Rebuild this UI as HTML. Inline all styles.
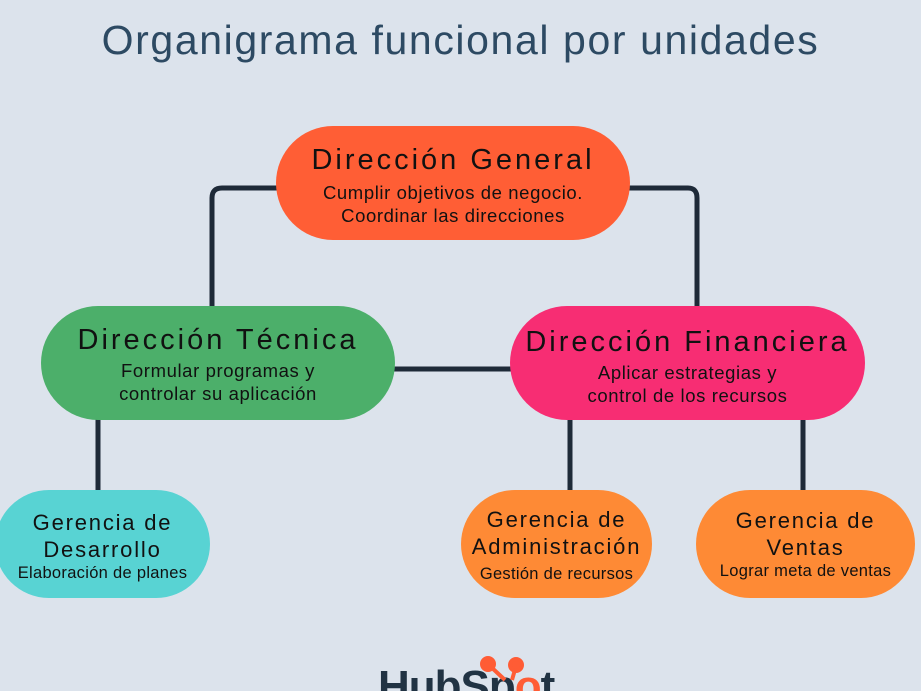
<!DOCTYPE html>
<html style="width:921px;height:691px;overflow:hidden"><head><meta charset="utf-8"><style>
body{margin:0;width:921px;height:691px;background:#dce3ec;position:relative;overflow:hidden;font-family:"Liberation Sans","DejaVu Sans",sans-serif;}
.t{position:absolute;left:0;width:921px;top:17px;text-align:center;font-size:41px;color:#2d4a63;letter-spacing:1.6px}
.n{position:absolute;border-radius:60px;display:flex;flex-direction:column;align-items:center;justify-content:center;text-align:center;color:#111}
.h{font-size:29px;letter-spacing:3px;line-height:34px}
.s{font-size:18.5px;line-height:23px;letter-spacing:0.6px}
.h2{font-size:22px;letter-spacing:1.8px;line-height:27px}
.s2{font-size:16.5px;line-height:21px;letter-spacing:0.3px}
</style></head><body>
<div class="t">Organigrama funcional por unidades</div>
<svg width="921" height="691" style="position:absolute;left:0;top:0">
<g fill="none" stroke="#1e2a38" stroke-width="5" stroke-linejoin="round">
<path d="M280 188 H222 Q212 188 212 198 V306"/>
<path d="M626 188 H688 Q697 188 697 198 V306"/>
<path d="M393 369 H512"/>
<path d="M98 418 V490"/>
<path d="M570 418 V490"/>
<path d="M803 418 V490"/>
</g>
</svg>
<div class="n" style="left:276px;top:126px;width:354px;height:114px;background:#ff5e35"><div class="h" style="margin-top:4px">Dirección General</div><div class="s" style="margin-top:4px">Cumplir objetivos de negocio.<br>Coordinar las direcciones</div></div>
<div class="n" style="left:41px;top:306px;width:354px;height:114px;background:#4caf6a"><div class="h" style="margin-top:2px">Dirección Técnica</div><div class="s" style="margin-top:2px">Formular programas y<br>controlar su aplicación</div></div>
<div class="n" style="left:510px;top:306px;width:355px;height:114px;background:#f72d73"><div class="h" style="margin-top:6px">Dirección Financiera</div><div class="s" style="margin-top:2px">Aplicar estrategias y<br>control de los recursos</div></div>
<div class="n" style="left:-5px;top:490px;width:215px;height:108px;background:#58d3d3;border-radius:54px"><div class="h2" style="margin-top:4px">Gerencia de<br>Desarrollo</div><div class="s2">Elaboración de planes</div></div>
<div class="n" style="left:461px;top:490px;width:191px;height:108px;background:#fe8a35;border-radius:54px"><div class="h2" style="margin-top:2px">Gerencia de<br>Administración</div><div class="s2" style="margin-top:4px">Gestión de recursos</div></div>
<div class="n" style="left:696px;top:490px;width:219px;height:108px;background:#fe8a35;border-radius:54px"><div class="h2">Gerencia de<br>Ventas</div><div class="s2">Lograr meta de ventas</div></div>
<div style="position:absolute;left:378px;top:662px;font-size:44px;line-height:50px;font-weight:bold;color:#213343;letter-spacing:-1px">HubSp<span style="color:#ff5c35">o</span>t</div>
<svg width="921" height="691" style="position:absolute;left:0;top:0">
<g stroke="#ff5c35" stroke-width="4" fill="#ff5c35"><line x1="490" y1="666" x2="505" y2="680"/><line x1="516" y1="666" x2="512" y2="680"/><circle cx="488" cy="664" r="6"/><circle cx="516" cy="665" r="6"/></g>
</svg>
</body></html>
